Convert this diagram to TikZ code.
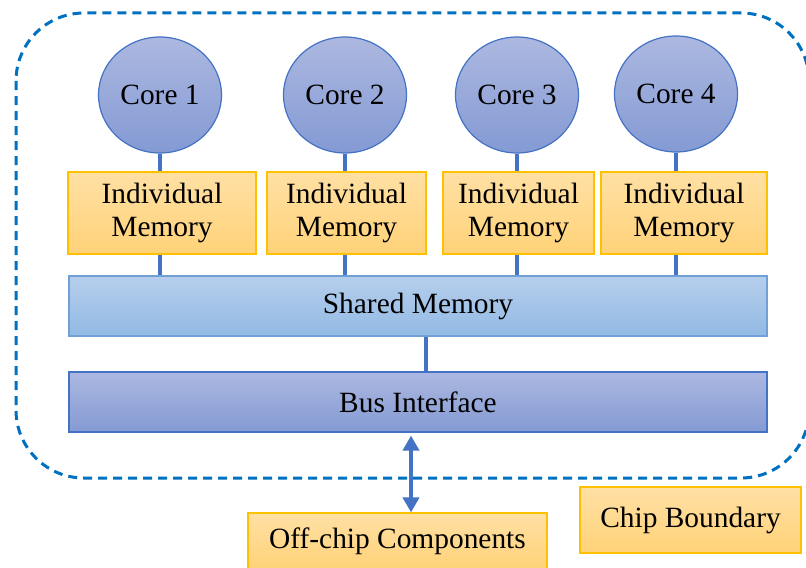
\documentclass[tikz,border=0pt]{standalone}
\usepackage{fontspec}
\setmainfont{Liberation Serif}
\usepackage{tikz}
\usetikzlibrary{arrows.meta}
\usetikzlibrary{shapes.geometric}
\definecolor{coreline}{RGB}{68,114,196}
\definecolor{coretop}{RGB}{172,184,224}
\definecolor{corebot}{RGB}{132,154,212}
\definecolor{memtop}{RGB}{255,224,164}
\definecolor{membot}{RGB}{255,210,120}
\definecolor{memline}{RGB}{255,192,0}
\definecolor{shtop}{RGB}{182,206,236}
\definecolor{shbot}{RGB}{146,186,228}
\definecolor{shline}{RGB}{112,160,214}
\definecolor{chipline}{RGB}{0,112,192}

\begin{document}
\begin{tikzpicture}[x=0.5pt, y=-0.5pt,
    every node/.style={font=\fontsize{14.7}{16.8}\selectfont, inner sep=0pt, align=center},
    core/.style={ellipse, draw=coreline, line width=0.6pt, top color=coretop, bottom color=corebot, minimum width=61.5pt, minimum height=58pt},
    membox/.style={rectangle, draw=memline, line width=0.6pt, top color=memtop, bottom color=membot, minimum height=41pt},
    sharedbox/.style={rectangle, draw=shline, line width=0.6pt, top color=shtop, bottom color=shbot, minimum width=349pt, minimum height=30pt},
    busbox/.style={rectangle, draw=coreline, line width=0.6pt, top color=coretop, bottom color=corebot, minimum width=349pt, minimum height=30pt},
    link/.style={draw=coreline, line width=2pt},
    boundary/.style={draw=chipline, line width=1.5pt, dash pattern=on 4.5pt off 3pt, rounded corners=34pt}]
    \clip (0,0) rectangle (806,567);
    \draw[boundary] (16,13) rectangle (809,478);

    \node[core] (core1) at (160,95) {Core 1};
    \node[core] (core2) at (345,95) {Core 2};
    \node[core] (core3) at (517,95) {Core 3};
    \node[core] (core4) at (676,94) {Core 4};

    \node[membox, minimum width=94pt] (mem1) at (162,213) {Individual\\Memory};
    \node[membox, minimum width=79.5pt] (mem2) at (346.5,213) {Individual\\Memory};
    \node[membox, minimum width=75.5pt] (mem3) at (518.5,213) {Individual\\Memory};
    \node[membox, minimum width=83pt] (mem4) at (684,213) {Individual\\Memory};

    \node[sharedbox] (shared) at (418,306) {Shared Memory};
    \node[busbox] (bus) at (418,402) {Bus Interface};

    \node[membox, minimum width=149.5pt, minimum height=28pt] (offchip) at (397.5,541) {Off-chip Components};
    \node[membox, minimum width=110.5pt, minimum height=33pt] (legend) at (690.5,520) {Chip Boundary};

    \draw[link] (core1.south) -- (core1.south |- mem1.north);
    \draw[link] (core2.south) -- (core2.south |- mem2.north);
    \draw[link] (core3.south) -- (core3.south |- mem3.north);
    \draw[link] (core4.south) -- (core4.south |- mem4.north);
    \draw[link] (core1.south |- mem1.south) -- (core1.south |- shared.north);
    \draw[link] (core2.south |- mem2.south) -- (core2.south |- shared.north);
    \draw[link] (core3.south |- mem3.south) -- (core3.south |- shared.north);
    \draw[link] (core4.south |- mem4.south) -- (core4.south |- shared.north);

    \coordinate (mid) at (426,0);
    \draw[link] (shared.south -| mid) -- (bus.north -| mid);

    \coordinate (ax) at (411,0);
    \draw[link, shorten <=1.5pt, {Triangle[width=8pt,length=7.5pt]}-{Triangle[width=8pt,length=7.5pt]}] (bus.south -| ax) -- (offchip.north -| ax);
\end{tikzpicture}
\end{document}
